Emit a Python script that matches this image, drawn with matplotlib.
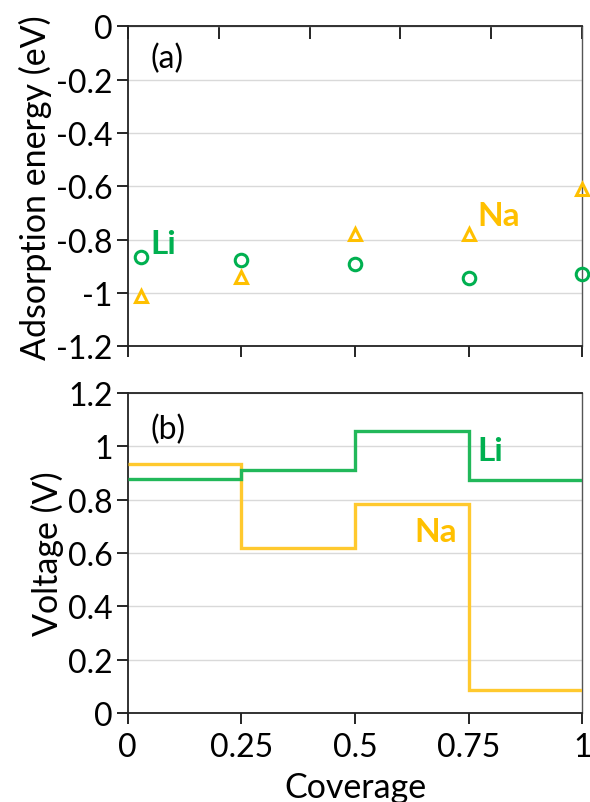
import numpy as np
import matplotlib.pyplot as plt

plt.rcParams['font.family'] = ['Lato', 'DejaVu Sans']

# (a) adsorption energy vs coverage
cov_pts = [0.03, 0.25, 0.5, 0.75, 1.0]
ads_li = [-0.865, -0.875, -0.893, -0.945, -0.93]
ads_na = [-1.01, -0.94, -0.78, -0.78, -0.61]

# (b) voltage steps
cov_edges = [0, 0.25, 0.5, 0.75, 1.0]
volt_li = [0.877, 0.910, 1.056, 0.874]
volt_na = [0.932, 0.619, 0.784, 0.086]

green = '#00B050'
green_line = '#22B85A'
orange = '#FFC000'
orange_line = '#FFC92E'
grid_c = '#D9D9D9'

fig = plt.figure(figsize=(5.9, 8.03), dpi=100)
ax1 = fig.add_axes([127.7 / 590, 1 - 347.3 / 803, 454.6 / 590, 320 / 803])
ax2 = fig.add_axes([127.7 / 590, 1 - 714 / 803, 454.6 / 590, 320 / 803])

fs = 23
fs_ax = 24.5
fs_lab = 24

for ax in (ax1, ax2):
    ax.set_xlim(0, 1)
    ax.grid(axis='y', color=grid_c, lw=1.0)
    ax.set_axisbelow(True)
    for s in ('left', 'bottom', 'top'):
        ax.spines[s].set_color('#222222')
        ax.spines[s].set_linewidth(1.3)
    ax.spines['right'].set_color('#555555')
    ax.spines['right'].set_linewidth(1.0)
    ax.set_xticks([0, 0.25, 0.5, 0.75, 1])
    ax.tick_params(axis='y', direction='out', length=8, width=1.2, labelsize=fs, pad=3)
    ax.tick_params(axis='x', direction='out', length=8, width=1.2, labelsize=fs, pad=6)

# panel (a)
ax1.plot(cov_pts, ads_li, 'o', mfc='none', mec=green, mew=2.2, ms=9, clip_on=False, zorder=5)
ax1.plot(cov_pts, ads_na, '^', mfc='none', mec=orange, mew=2.2, ms=9, clip_on=False, zorder=5)
ax1.set_ylim(-1.2, 0)
yt1 = [0, -0.2, -0.4, -0.6, -0.8, -1, -1.2]
ax1.set_yticks(yt1)
ax1.set_yticklabels(['0', '-0.2', '-0.4', '-0.6', '-0.8', '-1', '-1.2'])
ax1.tick_params(axis='x', labelbottom=False, top=False)
ax1.set_ylabel('Adsorption energy (eV)', fontsize=fs_ax, labelpad=3)
ax1.text(0.05, -0.815, 'Li', color=green, fontsize=fs_lab, fontweight='bold', va='center', ha='left')
ax1.text(0.77, -0.71, 'Na', color=orange, fontsize=fs_lab, fontweight='bold', va='center', ha='left')
ax1.text(0.05, -0.12, '(a)', fontsize=fs, va='center', ha='left')
# inward top ticks
ax1.secondary_xaxis('top').tick_params(direction='in', length=9, width=1.2, labeltop=False)

# panel (b)
ax2.stairs(volt_li, cov_edges, color=green_line, lw=2.4, baseline=None, zorder=4)
ax2.stairs(volt_na, cov_edges, color=orange_line, lw=2.4, baseline=None, zorder=3)
ax2.set_ylim(0, 1.2)
ax2.set_yticks([0, 0.2, 0.4, 0.6, 0.8, 1, 1.2])
ax2.set_yticklabels(['0', '0.2', '0.4', '0.6', '0.8', '1', '1.2'])
ax2.set_xticklabels(['0', '0.25', '0.5', '0.75', '1'])
ax2.set_ylabel('Voltage (V)', fontsize=fs_ax, labelpad=3)
ax2.set_xlabel('Coverage', fontsize=fs_ax, labelpad=6)
ax2.text(0.77, 0.985, 'Li', color=green, fontsize=fs_lab, fontweight='bold', va='center', ha='left')
ax2.text(0.63, 0.68, 'Na', color=orange, fontsize=fs_lab, fontweight='bold', va='center', ha='left')
ax2.text(0.05, 1.065, '(b)', fontsize=fs, va='center', ha='left')

fig.savefig('out.png', dpi=100)
